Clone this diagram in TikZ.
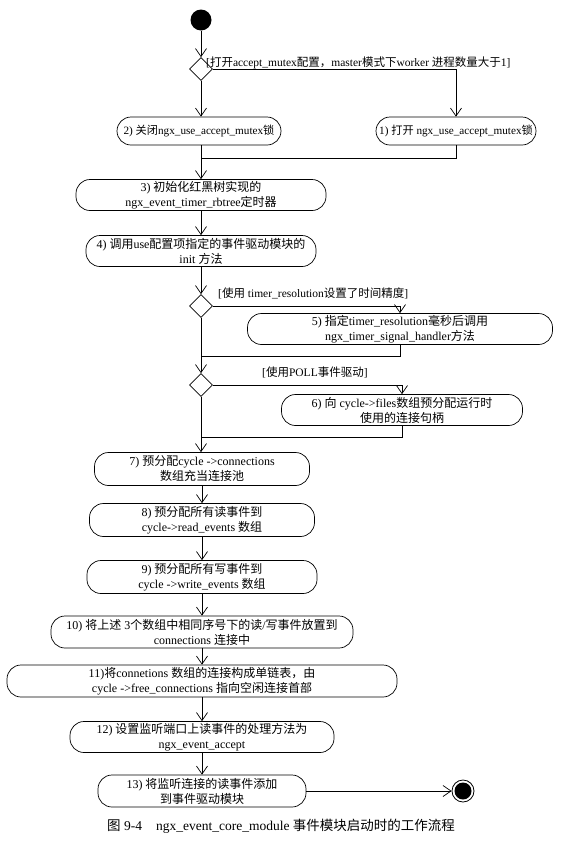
\documentclass[tikz,border=0pt]{standalone}
\usepackage{fontspec}
\setmainfont{Liberation Serif}
\newfontfamily\cjk{Noto Sans CJK SC}
\newcommand\zh[1]{{\cjk #1}}
\usetikzlibrary{arrows.meta,shapes.geometric}
\begin{document}
\begin{tikzpicture}[x=1pt,y=-1pt,
  act/.style={draw, rounded corners=14pt, minimum height=31pt, align=center,
    font=\fontsize{12}{15}\selectfont, inner sep=0pt, line width=0.7pt},
  small/.style={font=\fontsize{11.2}{14}\selectfont},
  dec/.style={draw, diamond, minimum width=23pt, minimum height=23pt, inner sep=0pt, line width=0.7pt},
  flow/.style={-{Straight Barb[length=8pt,width=11pt]}, line width=0.7pt},
  plain/.style={line width=0.7pt},
  guard/.style={font=\fontsize{11.5}{14}\selectfont, inner sep=0pt, anchor=base west}]
\useasboundingbox (0,0) rectangle (583,847);

\node[circle, fill=black, minimum size=21pt, inner sep=0pt] (start) at (201,20) {};
\node[dec] (d1) at (201,69) {};
\node[guard] (g1) at (206,66) {[\zh{打开}accept\_mutex\zh{配置，}master\zh{模式下}worker \zh{进程数量大于}1]};

\node[act, small, minimum width=164pt, minimum height=28pt] (n2) at (199,131) {2) \zh{关闭}ngx\_use\_accept\_mutex\zh{锁}};
\node[act, small, minimum width=160pt, minimum height=28pt] (n1) at (456,131) {1) \zh{打开} ngx\_use\_accept\_mutex\zh{锁}};
\coordinate (m1) at (456,158);

\node[act, minimum width=250pt] (n3) at (201,195) {3) \zh{初始化红黑树实现的}\\ngx\_event\_timer\_rbtree\zh{定时器}};
\node[act, minimum width=230pt] (n4) at (201,251) {4) \zh{调用}use\zh{配置项指定的事件驱动模块的}\\init \zh{方法}};

\node[dec] (d2) at (201,306) {};
\node[guard] (g2) at (218,297) {[\zh{使用} timer\_resolution\zh{设置了时间精度}]};
\node[act, minimum width=305pt] (n5) at (400,329) {5) \zh{指定}timer\_resolution\zh{毫秒后调用}\\ngx\_timer\_signal\_handler\zh{方法}};
\coordinate (m2) at (201,356);

\node[dec] (d3) at (201,385) {};
\node[guard] (g3) at (262,376) {[\zh{使用}POLL\zh{事件驱动}]};
\node[act, minimum width=241pt] (n6) at (402,410) {6) \zh{向} cycle->files\zh{数组预分配运行时}\\\zh{使用的连接句柄}};
\coordinate (m3) at (201,437);

\node[act, minimum width=215pt, minimum height=33pt] (n7) at (202,469) {7) \zh{预分配}cycle ->connections\\\zh{数组充当连接池}};
\node[act, minimum width=225pt, minimum height=33pt] (n8) at (202,520) {8) \zh{预分配所有读事件到}\\cycle->read\_events \zh{数组}};
\node[act, minimum width=230pt, minimum height=33pt] (n9) at (202,577) {9) \zh{预分配所有写事件到}\\cycle ->write\_events \zh{数组}};
\node[act, minimum width=302pt, minimum height=32pt] (n10) at (202,632) {10) \zh{将上述} 3\zh{个数组中相同序号下的读}/\zh{写事件放置到}\\connections \zh{连接中}};
\node[act, minimum width=390pt, minimum height=32pt] (n11) at (202,681) {11)\zh{将}connetions \zh{数组的连接构成单链表，由}\\cycle ->free\_connections \zh{指向空闲连接首部}};
\node[act, minimum width=264pt] (n12) at (202,737) {12) \zh{设置监听端口上读事件的处理方法为}\\ngx\_event\_accept};
\node[act, minimum width=208pt, minimum height=32pt] (n13) at (202,791) {13) \zh{将监听连接的读事件添加}\\\zh{到事件驱动模块}};

\node[circle, draw, line width=0.8pt, minimum size=22pt, inner sep=0pt] (end) at (463,791) {};
\node[circle, fill=black, minimum size=17pt, inner sep=0pt] (endin) at (end.center) {};

\node[anchor=base west, inner sep=0pt, font=\fontsize{13.5}{15}\selectfont] (cap) at (107,830)
  {\zh{图} 9-4\hspace{14pt}ngx\_event\_core\_module \zh{事件模块启动时的工作流程}};

\draw[flow] (start) -- (d1);
\draw[flow] (d1) -- (d1 |- n2.north);
\draw[flow] (d1.east) -| (n1.north);
\draw[plain] (n1.south) -- (m1) -- (m1 -| d1);
\draw[flow] (d1 |- n2.south) -- (n3);
\draw[flow] (n3) -- (n4);
\draw[flow] (n4) -- (d2);
\draw[flow] (d2.east) -| (n5.north);
\draw[plain] (n5.south) |- (m2);
\draw[flow] (d2) -- (d3);
\draw[flow] (d3.east) -| (n6.north);
\draw[plain] (n6.south) |- (m3);
\draw[flow] (d3) -- (d3 |- n7.north);
\draw[flow] (n7) -- (n8);
\draw[flow] (n8) -- (n9);
\draw[flow] (n9) -- (n10);
\draw[flow] (n10) -- (n11);
\draw[flow] (n11) -- (n12);
\draw[flow] (n12) -- (n13);
\draw[flow] (n13) -- (end);
\end{tikzpicture}
\end{document}
